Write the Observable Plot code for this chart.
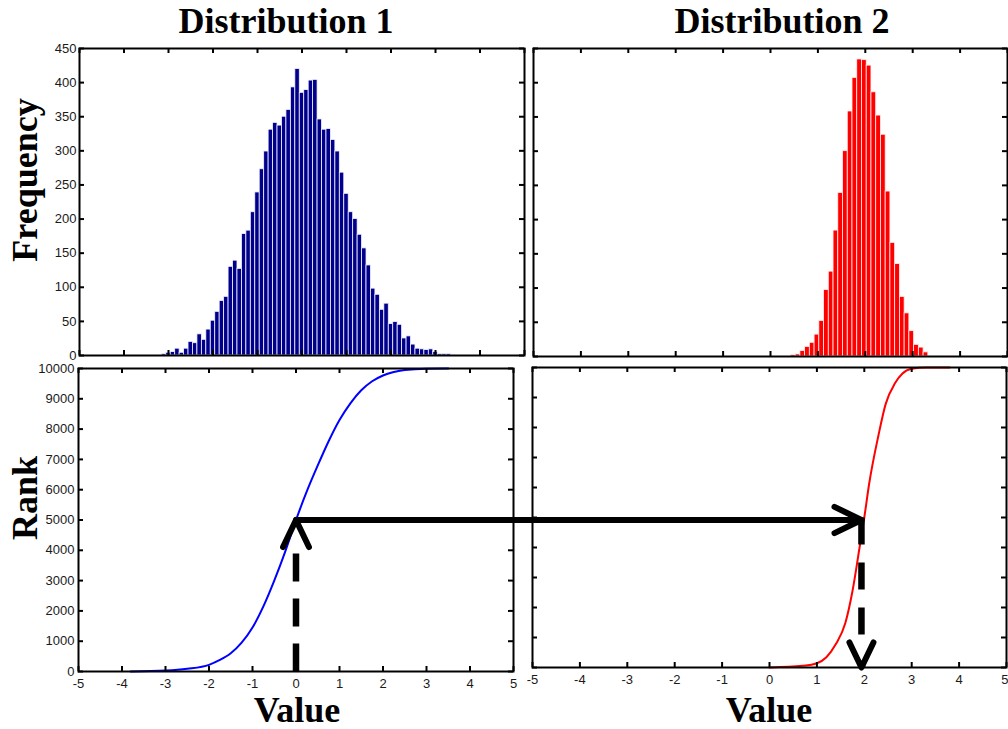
<!DOCTYPE html>
<html>
<head>
<meta charset="utf-8">
<script src="https://cdn.jsdelivr.net/npm/d3@7"></script>
<script src="https://cdn.jsdelivr.net/npm/@observablehq/plot@0.6"></script>
<style>
  body { margin: 0; background: #fff; }
  #chart { position: relative; width: 1008px; height: 729px; overflow: hidden; background: #fff; }
  #chart svg text { font-size: 13px; font-family: "Liberation Sans", Arial, Helvetica, sans-serif; }
  .label {
    position: absolute; white-space: nowrap;
    font-family: "Liberation Serif", "Times New Roman", serif;
    font-weight: bold; font-size: 36px; line-height: 36px; color: #000;
  }
</style>
</head>
<body>
<div id="chart"></div>
<script>
// ---- Data -------------------------------------------------------------
// Histogram of distribution 1: bin centres (width 0.1) and counts
const dist1Bins = [-3.1,-3.0,-2.9,-2.8,-2.7,-2.6,-2.5,-2.4,-2.3,-2.2,
  -2.1,-2.0,-1.9,-1.8,-1.7,-1.6,-1.5,-1.4,-1.3,-1.2,
  -1.1,-1.0,-0.9,-0.8,-0.7,-0.6,-0.5,-0.4,-0.3,-0.2,
  -0.1,0.0,0.1,0.2,0.3,0.4,0.5,0.6,0.7,0.8,
  0.9,1.0,1.1,1.2,1.3,1.4,1.5,1.6,1.7,1.8,
  1.9,2.0,2.1,2.2,2.3,2.4,2.5,2.6,2.7,2.8,
  2.9,3.0,3.1,3.2,3.3,3.4];
const dist1Counts = [2,4,5,10,4,10,20,18,31,23,
  38,51,64,80,86,130,139,127,178,183,
  210,239,273,299,331,341,337,350,360,393,
  420,385,389,403,404,346,331,332,316,299,
  268,237,210,200,177,157,132,98,89,67,
  76,46,49,45,25,28,16,10,9,8,
  9,5,2,2,2,1];

// Histogram of distribution 2
const dist2Bins = [0.48,0.58,0.68,0.78,0.88,0.98,1.08,1.18,1.28,1.38,
  1.48,1.58,1.68,1.78,1.88,1.98,2.08,2.18,2.28,2.38,
  2.48,2.58,2.68,2.78,2.88,2.98,3.08,3.18,3.28];
const dist2Counts = [2,3,8,14,20,32,52,97,124,184,
  239,300,358,407,434,433,425,386,352,324,
  241,166,135,87,63,37,17,13,6];

// Rank (cumulative) curves
const rank1Values = [-3.8,-3.0,-2.5,-2.0,-1.75,-1.5,-1.25,-1.0,-0.75,-0.5,-0.25,0,
  0.25,0.5,0.75,1.0,1.25,1.5,1.75,2.0,2.5,3.0,3.5];
const rank1 = [0,30,90,220,380,600,950,1450,2150,3000,3950,5000,
  5950,6800,7600,8300,8850,9280,9580,9770,9950,9995,10000];

const rank2Values = [0.0,0.7,1.0,1.2,1.4,1.6,1.75,1.9,2.0,2.1,2.3,2.45,2.65,2.8,3.0,3.3,3.8];
const rank2 = [0,55,140,340,780,1480,2540,4000,5000,6100,7750,8780,9480,9790,9960,10000,10000];

// Axis ticks
const valueTicks = [-5,-4,-3,-2,-1,0,1,2,3,4,5];
const freqTicks = [0,50,100,150,200,250,300,350,400,450];
const rankTicks = [0,1000,2000,3000,4000,5000,6000,7000,8000,9000,10000];

// Quantile mapping: the median value of each distribution at rank 5000
const median1 = 0;
const median2 = 1.94;
const midRank = 5000;

// ---- Layout -----------------------------------------------------------
const chart = document.getElementById("chart");
const FONT = "'Liberation Sans', Arial, Helvetica, sans-serif";

const boxes = {
  tl: {left: 0,   top: 40,  width: 530, height: 320, mt: 8, mr: 6, mb: 5,  ml: 79},
  tr: {left: 526, top: 40,  width: 482, height: 320, mt: 8, mr: 1, mb: 4,  ml: 7},
  bl: {left: 0,   top: 360, width: 520, height: 369, mt: 8, mr: 7, mb: 58, ml: 78},
  br: {left: 525, top: 360, width: 483, height: 369, mt: 7, mr: 2, mb: 62, ml: 7}
};

const hist1 = dist1Bins.map((b, i) => ({bin: b, count: dist1Counts[i]}));
const hist2 = dist2Bins.map((b, i) => ({bin: b, count: dist2Counts[i]}));
const curve1 = rank1Values.map((v, i) => ({value: v, rank: rank1[i]}));
const curve2 = rank2Values.map((v, i) => ({value: v, rank: rank2[i]}));
const binHalf = 0.05;

// Open "V" arrowheads whose tip sits on the anchor point
const chevronUp = {
  draw(context, size) {
    const r = Math.sqrt(size / Math.PI);
    context.moveTo(-0.48 * r, r);
    context.lineTo(0, 0);
    context.lineTo(0.48 * r, r);
  }
};
const chevronDown = {
  draw(context, size) {
    const r = Math.sqrt(size / Math.PI);
    context.moveTo(-0.48 * r, -r);
    context.lineTo(0, 0);
    context.lineTo(0.48 * r, -r);
  }
};

// Ticks drawn inward from all four sides of the box
function insideTicks(box, xVals, yVals, len = 5) {
  const iw = box.width - box.ml - box.mr;
  const ih = box.height - box.mt - box.mb;
  const s = {stroke: "black", strokeWidth: 2};
  return [
    Plot.tickX(xVals, {x: d => d, insetTop: ih - len, ...s}),
    Plot.tickX(xVals, {x: d => d, insetBottom: ih - len, ...s}),
    Plot.tickY(yVals, {y: d => d, insetRight: iw - len, ...s}),
    Plot.tickY(yVals, {y: d => d, insetLeft: iw - len, ...s})
  ];
}

function panel(box, {xAxis, xLabelTicks = valueTicks, yAxis, yDomain, yTicks, yPad = 4, marks}) {
  const svg = Plot.plot({
    width: box.width, height: box.height,
    marginTop: box.mt, marginRight: box.mr, marginBottom: box.mb, marginLeft: box.ml,
    style: {fontFamily: FONT, fontSize: "13px", color: "#1a1a1a", background: "transparent", overflow: "visible"},
    x: {domain: [-5, 5], ticks: xLabelTicks, tickSize: 0, tickPadding: 7,
        tickFormat: d => String(d), label: null, axis: xAxis ? "bottom" : null},
    y: {domain: yDomain, ticks: yTicks, tickSize: 0, tickPadding: yPad,
        tickFormat: d => String(d), label: null, axis: yAxis ? "left" : null},
    marks: [
      ...marks,
      ...insideTicks(box, valueTicks, yTicks),
      Plot.frame({stroke: "black", strokeWidth: 2})
    ]
  });
  svg.style.position = "absolute";
  svg.style.left = box.left + "px";
  svg.style.top = box.top + "px";
  return svg;
}

// ---- Histograms -------------------------------------------------------
const tl = panel(boxes.tl, {
  xAxis: false, yAxis: true, yDomain: [0, 450], yTicks: freqTicks, yPad: 3,
  marks: [
    Plot.rectY(hist1, {x1: d => d.bin - binHalf, x2: d => d.bin + binHalf, y: "count",
      fill: "#00008b", stroke: "#f4f4ff", strokeWidth: 0.8})
  ]
});

const tr = panel(boxes.tr, {
  xAxis: false, yAxis: false, yDomain: [0, 450], yTicks: freqTicks,
  marks: [
    Plot.rectY(hist2, {x1: d => d.bin - binHalf, x2: d => d.bin + binHalf, y: "count",
      fill: "#ff0000", stroke: "#fff0f0", strokeWidth: 0.8})
  ]
});

// ---- Rank curves ------------------------------------------------------
// Position of distribution 2's median expressed in the left panel's value units,
// so the mapping arrow can run from one panel into the other
const brPx = d3.scaleLinear([-5, 5], [boxes.br.left + boxes.br.ml, boxes.br.left + boxes.br.width - boxes.br.mr]);
const blPx = d3.scaleLinear([-5, 5], [boxes.bl.left + boxes.bl.ml, boxes.bl.left + boxes.bl.width - boxes.bl.mr]);
const median2InLeft = blPx.invert(brPx(median2));

const lastTick = valueTicks[valueTicks.length - 1];
const br = panel(boxes.br, {
  xAxis: true, xLabelTicks: valueTicks.slice(0, -1), yAxis: false, yDomain: [0, 10000], yTicks: rankTicks,
  marks: [
    Plot.line(curve2, {x: "value", y: "rank", stroke: "#ff0000", strokeWidth: 2, curve: "monotone-x"}),
    Plot.arrow([{v: median2, r0: midRank, r1: 0}], {
      x1: "v", y1: "r0", x2: "v", y2: "r1", stroke: "black", strokeWidth: 6.5,
      headLength: 0, insetEnd: 26, strokeDasharray: "27,18", strokeLinecap: "butt"}),
    Plot.dot([{v: median2, r: 0}], {x: "v", y: "r", symbol: chevronDown, r: 25,
      fill: "none", stroke: "black", strokeWidth: 6, strokeLinecap: "round", strokeLinejoin: "round"}),
    // the right-most tick label sits against the page edge, so it is end-anchored
    Plot.text([lastTick], {x: d => d, frameAnchor: "bottom", lineAnchor: "top", dy: 7,
      textAnchor: "end", dx: 2, text: d => String(d), fill: "#1a1a1a"})
  ]
});

const bl = panel(boxes.bl, {
  xAxis: true, yAxis: true, yDomain: [0, 10000], yTicks: rankTicks, yPad: 4,
  marks: [
    Plot.line(curve1, {x: "value", y: "rank", stroke: "#0000ff", strokeWidth: 2, curve: "monotone-x"}),
    Plot.arrow([{v: median1, r0: 0, r1: midRank}], {
      x1: "v", y1: "r0", x2: "v", y2: "r1", stroke: "black", strokeWidth: 6.5,
      headLength: 0, insetEnd: 28, strokeDasharray: "28,17", strokeLinecap: "butt"}),
    Plot.dot([{v: median1, r: midRank}], {x: "v", y: "r", symbol: chevronUp, r: 27,
      fill: "none", stroke: "black", strokeWidth: 6, strokeLinecap: "round", strokeLinejoin: "round"}),
    Plot.arrow([{a: median1, b: median2InLeft, r: midRank}], {
      x1: "a", y1: "r", x2: "b", y2: "r", stroke: "black", strokeWidth: 6,
      headLength: 7.5, headAngle: 52, strokeLinecap: "round", strokeLinejoin: "round"})
  ]
});
bl.style.zIndex = 2;

chart.append(tl, tr, br, bl);

// ---- Titles and axis labels ------------------------------------------
function label(text, x, y, rotate = false) {
  const div = document.createElement("div");
  div.className = "label";
  div.textContent = text;
  div.style.left = x + "px";
  div.style.top = y + "px";
  div.style.transform = rotate ? "translate(-50%, -50%) rotate(-90deg)" : "translateX(-50%)";
  chart.appendChild(div);
}
label("Distribution 1", 286, 3);
label("Distribution 2", 782, 3);
label("Frequency", 25, 180, true);
label("Rank", 25, 498, true);
label("Value", 297, 692);
label("Value", 769, 692);
</script>
</body>
</html>
